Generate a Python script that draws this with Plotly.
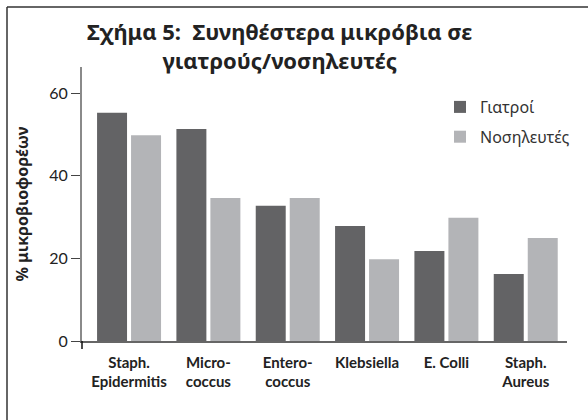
import plotly.graph_objects as go

# Most frequent microbes carried by doctors / nurses (% of carriers)
categories = ["Staph.<br>Epidermitis", "Micro-<br>coccus", "Entero-<br>coccus",
              "Klebsiella", "E. Colli", "Staph.<br>Aureus"]
doctors = [55.2, 51.3, 32.7, 27.8, 21.8, 16.2]
nurses = [49.8, 34.6, 34.6, 19.8, 29.8, 24.9]
series_names = ["Γιατροί", "Νοσηλευτές"]
y_ticks = [0, 20, 40, 60]

LATIN = "Lato, 'Noto Sans', sans-serif"
GREEK = "'Noto Sans', sans-serif"
DARK = "#636365"
LIGHT = "#b3b4b7"

fig = go.Figure()
fig.add_trace(go.Bar(x=categories, y=doctors, name=series_names[0],
                     marker=dict(color=DARK, line=dict(width=0)), legendgroup="a"))
fig.add_trace(go.Bar(x=categories, y=nurses, name=series_names[1],
                     marker=dict(color=LIGHT, line=dict(width=0)), legendgroup="b"))

L, R, T, B = 82, 21, 67, 79
W, H = 588, 420
pw, ph = W - L - R, H - T - B

def px_x(x):
    return (x - L) / pw

def px_y(y):
    return (H - B - y) / ph

fig.update_layout(
    width=W, height=H,
    margin=dict(l=L, r=R, t=T, b=B),
    paper_bgcolor="white", plot_bgcolor="white",
    barmode="group", bargap=0.143, bargroupgap=0.118,
    font=dict(family=LATIN, color="#222"),
    legend=dict(x=px_x(440), y=px_y(90), xanchor="left", yanchor="top",
                font=dict(size=16, color="#333", family=GREEK),
                traceorder="grouped", tracegroupgap=6,
                bgcolor="rgba(0,0,0,0)", itemwidth=30),
    showlegend=True,
)

# two-line chart title
fig.add_annotation(
    text="<b>Σχήμα 5:  Συνηθέστερα μικρόβια σε<br>γιατρούς/νοσηλευτές</b>",
    xref="paper", yref="paper", x=px_x(279), y=px_y(14),
    xanchor="center", yanchor="top", showarrow=False, align="center",
    font=dict(size=22, color="#222", family=GREEK),
)

fig.update_xaxes(
    range=[-0.593, 5.52], showgrid=False, zeroline=False,
    showline=True, linecolor="#666", linewidth=1.5,
    ticks="", ticklabelstandoff=7,
    tickfont=dict(size=15, color="#222", family=LATIN),
    tickprefix="<b>", ticksuffix="</b>",
)
fig.update_yaxes(
    range=[0, 66.3], tickvals=y_ticks, showgrid=False, zeroline=False,
    showline=True, linecolor="#8a8a8a", linewidth=2,
    ticks="outside", ticklen=9, tickwidth=1.2, tickcolor="#444",
    tickfont=dict(size=16, color="#222", family=LATIN),
    title=dict(text="<b>% μικροβιοφορέων</b>", font=dict(size=16, color="#222", family=GREEK),
               standoff=17),
)

# small downward tick where the two axes meet
fig.add_shape(type="line", xref="paper", yref="paper",
              x0=0, x1=0, y0=0, y1=-8 / ph, line=dict(color="#111", width=1.5))
# frame lines along the top and left edges
fig.add_shape(type="line", xref="paper", yref="paper",
              x0=px_x(7), x1=px_x(W + 5), y0=px_y(7), y1=px_y(7),
              line=dict(color="#333", width=1.5))
fig.add_shape(type="line", xref="paper", yref="paper",
              x0=px_x(7), x1=px_x(7), y0=px_y(7), y1=px_y(H + 5),
              line=dict(color="#333", width=1.5))

fig.write_html("out.html")
